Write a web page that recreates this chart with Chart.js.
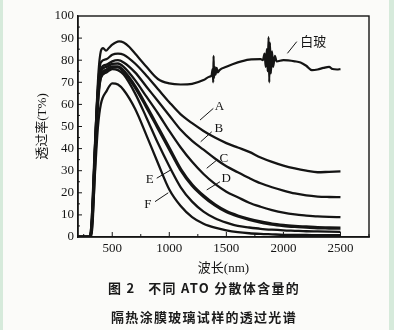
<!DOCTYPE html>
<html>
<head>
<meta charset="utf-8">
<script src="https://cdn.jsdelivr.net/npm/chart.js@4"></script>
<style>
  html, body { margin:0; padding:0; }
  body { width:394px; height:330px; background:#d6eadb; position:relative; overflow:hidden; }
  #panel { position:absolute; left:3px; top:0; width:386px; height:330px; background:#fbfbf9; }
  canvas { position:absolute; left:0; top:0; }
  .cap { position:absolute; left:0; width:408px; text-align:center; white-space:pre;
         font-family:"Noto Sans CJK SC","Noto Sans",sans-serif; font-weight:bold; font-size:13px;
         letter-spacing:1.3px; color:#1a1a1a; line-height:16px; }
</style>
</head>
<body>
<div id="panel"></div>
<canvas id="c" width="394" height="330"></canvas>
<div class="cap" style="top:280px">图 2   不同 ATO 分散体含量的</div>
<div class="cap" style="top:309px">隔热涂膜玻璃试样的透过光谱</div>
<script>
// ---- data ----
const waveAF = [200,300,320,350,375,400,450,500,550,600,700,800,900,1000,1100,1200,1300,1400,1500,1600,1700,1800,1900,2000,2100,2200,2300,2400,2500];
const seriesA = [0,0,5,42,68,79,80.5,82.5,83,82.5,78.5,73,67,61,55.5,51.5,48,45,42.5,40.5,38.5,36,34,32.3,31,30,29.3,29.5,29.7];
const seriesB = [0,0,5,40,66,76,78,79.5,80,79,74.5,68,61.5,55,48.5,43.5,39.5,35.5,32,29.3,26.7,24.3,22.5,21,19.7,18.8,18.3,18.1,18];
const seriesC = [0,0,5,39,65,75,77,78.3,78.5,77,71,63.5,56,48,40.5,34,28.5,24,20.5,18,15.5,13.7,12.2,11,10.2,9.7,9.3,9.1,9];
const seriesD = [0,0,4,38,63,73,75.5,77,77,75,68,59,49.5,40,30.5,23.5,18.5,14.5,11.5,9.5,8,6.8,5.8,5.2,4.8,4.5,4.2,4.1,4];
const seriesE = [0,0,4,37,62,72,74.5,76,75.5,73.5,65,54,42.5,32,22.5,16,11.5,8.5,6.5,5,4.3,3.7,3.3,3,2.8,2.6,2.5,2.4,2.3];
const seriesF = [0,0,3,30,50,60,66,69.5,69,66.5,58,46,33.5,21.5,14,9,6,4.2,3,2.2,1.7,1.4,1.2,1,0.9,0.9,0.8,0.8,0.8];
const waveClear = [200,300,320,340,360,380,400,420,445,470,500,530,560,600,650,700,800,900,1000,1100,1200,1300,1350,1370,1380,1385,1388,1392,1398,1405,1415,1425,1440,1500,1600,1700,1800,1820,1835,1845,1855,1862,1870,1876,1882,1890,1900,1910,1925,1940,2000,2100,2150,2200,2250,2300,2350,2400,2430,2470,2500];
const seriesClear = [0,0,8,30,55,75,84,85.5,84.3,85.5,87,88,88.5,88,86,83,77,71.5,69.5,69,69.3,71,72.5,73,76,70,82,72,77,73.5,76.5,74.5,75.5,77,79,80.3,80.5,80,83,77,85,75,90.5,70,88,74,84,77,82,79.5,80,79.5,79,77.5,75.5,75.8,76.5,77,76,75.8,76];
const xTickValues = [500,1000,1500,2000,2500];
const yTickValues = [0,10,20,30,40,50,60,70,80,90,100];
const curveNames = ['A','B','C','D','E','F'];
const clearName = '白玻';

// ---- annotation placement (data units) ----
const notes = [
  {text:'A', tx:1440, ty:59, x1:1386, y1:58.2, x2:1269, y2:52.9},
  {text:'B', tx:1434, ty:49.2, x1:1372, y1:47.6, x2:1275, y2:43.1},
  {text:'C', tx:1478, ty:35.3, x1:1416, y1:34.8, x2:1328, y2:31.1},
  {text:'D', tx:1498, ty:26.6, x1:1444, y1:25, x2:1328, y2:21.3},
  {text:'E', tx:828, ty:25.8, x1:890, y1:26.6, x2:1021, y2:30.6},
  {text:'F', tx:812, ty:14.5, x1:875, y1:16, x2:991, y2:20},
  {text:clearName, tx:2262, ty:87.9, x1:2117, y1:88.4, x2:2035, y2:83.1}
];

const ink = '#141414';
const serif = "'Liberation Serif','Noto Sans CJK SC',serif";

function pts(xs, ys){ return xs.map((x,i)=>({x:x, y:ys[i]})); }

const afSeries = [seriesA, seriesB, seriesC, seriesD, seriesE, seriesF];
const datasets = afSeries.map((s,i)=>({
  label: curveNames[i], data: pts(waveAF, s),
  borderColor: ink, borderWidth: i===3 ? 3.4 : 2.3,
  pointRadius:0, cubicInterpolationMode:'monotone', fill:false
}));
datasets.unshift({
  label: clearName, data: pts(waveClear, seriesClear),
  borderColor: ink, borderWidth: 2.2, pointRadius:0, cubicInterpolationMode:'monotone', fill:false
});

const decor = {
  id:'decor',
  afterDraw(chart){
    const ctx = chart.ctx, a = chart.chartArea;
    const xs = chart.scales.x, ys = chart.scales.y;
    ctx.save();
    ctx.strokeStyle = ink; ctx.lineWidth = 1.4;
    ctx.strokeRect(a.left, a.top, a.right - a.left, a.bottom - a.top);
    ctx.lineWidth = 1;
    for (let v = 250; v <= 2750; v += 250){
      const px = xs.getPixelForValue(v);
      const len = (v % 500 === 0) ? 5 : 3;
      ctx.beginPath(); ctx.moveTo(px, a.bottom); ctx.lineTo(px, a.bottom - len); ctx.stroke();
    }
    for (let v = 5; v < 100; v += 5){
      const py = ys.getPixelForValue(v);
      const len = (v % 10 === 0) ? 4 : 2;
      ctx.beginPath(); ctx.moveTo(a.left, py); ctx.lineTo(a.left + len, py); ctx.stroke();
    }
    ctx.fillStyle = ink; ctx.font = "13px " + serif;
    ctx.textAlign = 'center'; ctx.textBaseline = 'middle';
    notes.forEach(n=>{
      ctx.beginPath();
      ctx.moveTo(xs.getPixelForValue(n.x1), ys.getPixelForValue(n.y1));
      ctx.lineTo(xs.getPixelForValue(n.x2), ys.getPixelForValue(n.y2));
      ctx.stroke();
      ctx.fillText(n.text, xs.getPixelForValue(n.tx), ys.getPixelForValue(n.ty));
    });
    ctx.restore();
  }
};

new Chart(document.getElementById('c'), {
  type:'line',
  data:{ datasets },
  plugins:[decor],
  options:{
    responsive:false, animation:false, devicePixelRatio:1,
    layout:{ padding:{ top:16, right:25, left:0, bottom:48 } },
    plugins:{ legend:{display:false}, tooltip:{enabled:false} },
    scales:{
      x:{
        type:'linear', min:200, max:2750,
        afterBuildTicks: s => { s.ticks = xTickValues.map(v=>({value:v})); },
        afterFit: s => { s.height = 45; },
        grid:{ display:false, drawTicks:false },
        border:{ display:true, color:ink, width:1.4 },
        ticks:{ padding:4, color:ink, font:{family:serif, size:13}, maxRotation:0, autoSkip:false,
                callback: v => String(v) },
        title:{ display:true, text:'波长(nm)', color:ink, font:{family:serif, size:13}, padding:{top:0, bottom:6} }
      },
      y:{
        min:0, max:100,
        afterBuildTicks: s => { s.ticks = yTickValues.map(v=>({value:v})); },
        afterFit: s => { s.width = 78; },
        grid:{ display:false, drawTicks:false },
        border:{ display:true, color:ink, width:1.4 },
        ticks:{ padding:4, color:ink, font:{family:serif, size:13}, autoSkip:false,
                callback: v => String(v) },
        title:{ display:true, text:'透过率(T%)', color:ink, font:{family:serif, size:13}, padding:{top:35, bottom:0} }
      }
    }
  }
});
</script>
</body>
</html>
